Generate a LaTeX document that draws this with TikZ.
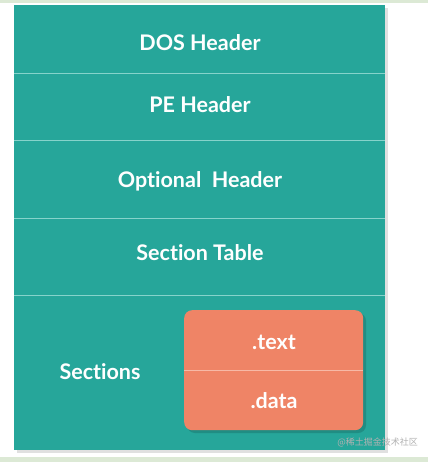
\documentclass[tikz,border=0pt]{standalone}
\usepackage{fontspec}
\setmainfont{Lato}[Ligatures={NoCommon,NoRare}]
\newfontfamily\cjk{Noto Sans CJK SC}
\definecolor{teal1}{HTML}{26A69A}
\definecolor{lineT}{HTML}{86D3CB}
\definecolor{orng}{HTML}{EF8466}
\definecolor{lineO}{HTML}{F7B9A6}
\definecolor{strip}{HTML}{DCE9D5}
\tikzset{
  lbl/.style={text=white, font=\bfseries\fontsize{21.5}{25}\selectfont, inner sep=0pt},
  divT/.style={draw=lineT, line width=0.8pt},
  divO/.style={draw=lineO, line width=0.8pt},
}
\begin{document}
\begin{tikzpicture}[x=1pt,y=-1pt]
\useasboundingbox (0,0) rectangle (428,462);
\fill[white] (0,0) rectangle (428,462);
\fill[strip] (0,0) rectangle (428,3);
\fill[strip] (0,457) rectangle (428,462);
% shadow
\fill[black, opacity=0.12] (17,8) rectangle (388,453);
% main box
\node[fill=teal1, minimum width=371pt, minimum height=445pt, inner sep=0pt, anchor=north west] (main) at (14,5) {};
\coordinate (d1l) at (14,73);  \coordinate (d1r) at (385,73);
\coordinate (d2l) at (14,140); \coordinate (d2r) at (385,140);
\coordinate (d3l) at (14,218); \coordinate (d3r) at (385,218);
\coordinate (d4l) at (14,295); \coordinate (d4r) at (385,295);
\draw[divT] (d1l) -- (d1r);
\draw[divT] (d2l) -- (d2r);
\draw[divT] (d3l) -- (d3r);
\draw[divT] (d4l) -- (d4r);
\node[lbl] (dos) at (200,43) {DOS Header};
\node[lbl] (pe) at (200,105) {PE Header};
\node[lbl] (opt) at (200,181) {Optional~ Header};
\node[lbl] (sec) at (200,253) {Section Table};
\node[lbl] (secs) at (100,372) {Sections};
% sections box
\fill[black, opacity=0.15, rounded corners=8pt] (187,313) rectangle (366,433);
\node[fill=orng, rounded corners=8pt, minimum width=179pt, minimum height=120pt, inner sep=0pt, anchor=north west] (sbox) at (184,310) {};
\coordinate (o1l) at (184,370); \coordinate (o1r) at (363,370);
\draw[divO] (o1l) -- (o1r);
\node[lbl] (txt) at (274,342) {.text};
\node[lbl] (dat) at (274,401) {.data};
\node[text=gray!60, font=\cjk\fontsize{9}{10}\selectfont, anchor=east, inner sep=0pt] (wm) at (418,442) {@稀土掘金技术社区};
\end{tikzpicture}
\end{document}
